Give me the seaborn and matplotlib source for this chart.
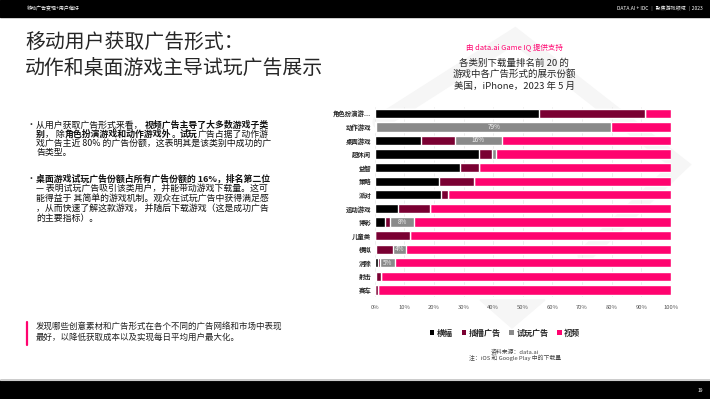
import numpy as np
import pandas as pd
import matplotlib.pyplot as plt
import seaborn as sns
from matplotlib.patches import Rectangle, Patch, Polygon
from matplotlib.lines import Line2D

# data (share of ad impressions, %)
categories = ["角色扮演游...", "动作游戏", "桌面游戏", "超休闲", "益智", "策略", "派对",
              "运动游戏", "博彩", "儿童类", "模拟", "消除", "射击", "赛车"]
banner = [55.6, 0.0, 15.6, 35.2, 28.7, 21.7, 22.4, 7.9, 3.6, 0.0, 0.5, 1.2, 0.4, 0.2]
interstitial = [35.7, 0.5, 11.5, 4.4, 6.5, 11.8, 2.5, 10.7, 1.7, 11.9, 5.8, 0.5, 1.7, 0.8]
playable = [0.0, 79.4, 15.8, 1.2, 0.0, 0.0, 0.0, 0.0, 7.8, 0.0, 4.4, 5.3, 0.0, 0.0]
playable_labels = ["", "79%", "16%", "", "", "", "", "", "8%", "", "4%", "5%", "", ""]
series_names = ["横幅", "插播广告", "试玩广告", "视频"]
series_colors = ["#000000", "#7a0032", "#8a8a8a", "#ff036f"]
xticks = [0, 10, 20, 30, 40, 50, 60, 70, 80, 90, 100]

video = [100 - a - b - c for a, b, c in zip(banner, interstitial, playable)]

sns.set_style("white")
plt.rcParams["font.family"] = ["Noto Sans CJK SC", "DejaVu Sans"]

W, H = 710, 399
fig = plt.figure(figsize=(7.1, 3.99), dpi=100)


def fx(x):
    return x / W


def fy(y):
    return 1 - y / H


# faint logo watermark behind everything
fig.add_artist(Line2D([fx(380), fx(515), fx(680), fx(585)],
                      [fy(122), fy(36), fy(165), fy(255)],
                      color="#f6f6f6", lw=11, solid_joinstyle="miter", zorder=0))
fig.add_artist(Polygon([[fx(480), fy(300)], [fx(545), fy(300)], [fx(512), fy(328)]],
                       closed=True, color="#f6f6f6", zorder=0))

# header and footer bars
fig.add_artist(Rectangle((0, fy(17)), 1, 17 / H, color="black", zorder=1))
fig.add_artist(Rectangle((0, 0), 1, 19 / H, color="black", zorder=1))
fig.add_artist(Line2D([0, 1], [fy(379.5), fy(379.5)], color="#cccccc", lw=0.8))
fig.text(fx(27), fy(8.5), "移动广告变现+用户偏好", color="white", fontsize=3.6,
         va="center", ha="left")
fig.text(fx(703), fy(8.5), "DATA.AI + IDC ｜ 聚焦游戏领域 ｜2023", color="white",
         fontsize=3.6, va="center", ha="right")
fig.text(fx(703), fy(391), "19", color="white", fontsize=3.6, va="center", ha="right")

# title
fig.text(fx(25), fy(43), "移动用户获取广告形式：", fontsize=14.3, va="center", ha="left")
fig.text(fx(25), fy(68), "动作和桌面游戏主导试玩广告展示", fontsize=14.3, va="center", ha="left")

# bullets
bullet_fs = 6.4
lines1 = [
    [("从用户获取广告形式来看， ", "normal"), ("视频广告主导了大多数游戏子类", "bold")],
    [("别", "bold"), ("， 除", "normal"), ("角色扮演游戏和动作游戏外", "bold"), ("。", "normal"),
     ("试玩", "bold"), ("广告占据了动作游", "normal")],
    [("戏广告主近 80% 的广告份额，这表明其是该类别中成功的广", "normal")],
    [("告类型。", "normal")],
]
lines2 = [
    [("桌面游戏试玩广告份额占所有广告份额的 16%，排名第二位", "bold")],
    [("— 表明试玩广告吸引该类用户，并能带动游戏下载量。这可", "normal")],
    [("能得益于 其简单的游戏机制。观众在试玩广告中获得满足感", "normal")],
    [("，从而快速了解这款游戏， 并随后下载游戏（这是成功广告", "normal")],
    [("的主要指标）。", "normal")],
]


def draw_lines(lines, y0, step):
    renderer = fig.canvas.get_renderer()
    for i, parts in enumerate(lines):
        x = fx(36)
        for txt, weight in parts:
            t = fig.text(x, fy(y0 + i * step), txt, fontsize=bullet_fs, fontweight=weight,
                         va="center", ha="left", color="#111111")
            bb = t.get_window_extent(renderer=renderer)
            x += bb.width / fig.bbox.width


fig.text(fx(27), fy(125), "•", fontsize=bullet_fs, va="center", ha="left")
draw_lines(lines1, 125, 9.3)
fig.text(fx(27), fy(178.7), "•", fontsize=bullet_fs, va="center", ha="left")
draw_lines(lines2, 178.7, 9.9)

# bottom note with pink rule
fig.add_artist(Line2D([fx(27), fx(27)], [fy(321.5), fy(344.5)], color="#ff036f", lw=1.6))
fig.text(fx(36), fy(326.7), "发现哪些创意素材和广告形式在各个不同的广告网络和市场中表现",
         fontsize=6.1, va="center", ha="left", color="#222222")
fig.text(fx(36), fy(337), "最好，以降低获取成本以及实现每日平均用户最大化。",
         fontsize=6.1, va="center", ha="left", color="#222222")

# chart heading
fig.text(fx(514), fy(47), "由 data.ai Game IQ 提供支持", fontsize=5.4, color="#ff036f",
         va="center", ha="center")
fig.text(fx(514), fy(63), "各类别下载量排名前 20 的", fontsize=6.8, va="center", ha="center")
fig.text(fx(514), fy(74.5), "游戏中各广告形式的展示份额", fontsize=6.8, va="center", ha="center")
fig.text(fx(514), fy(86), "美国，iPhone，2023 年 5 月", fontsize=6.8, va="center", ha="center")

# stacked bars via cumulative sums drawn from the top series down
df = pd.DataFrame({"category": categories, "横幅": banner, "插播广告": interstitial,
                   "试玩广告": playable, "视频": video})
cum = df[series_names].cumsum(axis=1)

ax = fig.add_axes([fx(374.7), fy(296.8), (671 - 374.7) / W, (296.8 - 106.5) / H])
ax.patch.set_alpha(0)
for name, color in reversed(list(zip(series_names, series_colors))):
    sns.barplot(x=cum[name], y=df["category"], orient="h", color=color, width=0.68,
                saturation=1, ax=ax, zorder=2)

left = cum["插播广告"].to_numpy()
for i, lab in enumerate(playable_labels):
    if lab:
        ax.text(left[i] + playable[i] / 2, i, lab, color="#f2f2f2", fontsize=4.6,
                ha="center", va="center", zorder=3)

ax.set_xlim(0, 100)
ax.set_xticks(xticks)
ax.set_xticklabels([f"{t}%" for t in xticks], fontsize=4.2, color="#555555")
ax.tick_params(axis="y", labelsize=4.6, length=0, pad=2.5)
ax.tick_params(axis="x", length=0, pad=6)
for lab in ax.get_yticklabels():
    lab.set_fontweight("bold")
ax.set_xlabel("")
ax.set_ylabel("")
ax.grid(axis="x", color="#e6e6e6", lw=0.5, zorder=0)
ax.set_axisbelow(True)
sns.despine(ax=ax, left=True, bottom=True)

handles = [Patch(facecolor=c, edgecolor="none") for c in series_colors]
fig.legend(handles, series_names, loc="center", bbox_to_anchor=(fx(505), fy(333)),
           ncol=4, frameon=False, handlelength=0.55, handleheight=0.55, handletextpad=0.3,
           columnspacing=1.1, prop={"size": 5.8, "weight": "bold"})

fig.text(fx(515), fy(351.5), "资料来源：data.ai", fontsize=4.2, va="center", ha="center",
         color="#444444")
fig.text(fx(515), fy(358), "注：iOS 和 Google Play 中的下载量", fontsize=4.2, va="center",
         ha="center", color="#444444")

fig.savefig("out.png", dpi=100)
